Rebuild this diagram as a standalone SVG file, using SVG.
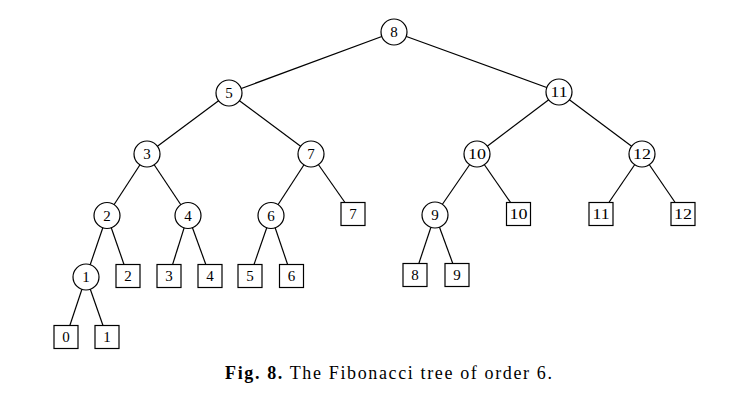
<svg xmlns="http://www.w3.org/2000/svg" width="752" height="403" viewBox="0 0 752 403">
<style>
.e{stroke:#000;stroke-width:1.2;fill:none}
.c{fill:#fff;stroke:#000;stroke-width:1.2}
.s{fill:#fff;stroke:#000;stroke-width:1.2}
.t{font-family:"Liberation Serif","Times New Roman",serif;font-size:15px;text-anchor:middle;fill:#000}
.cap{font-family:"Liberation Serif","Times New Roman",serif;font-size:18px;fill:#000}
</style>
<rect width="752" height="403" fill="#fff"/>
<g id="connectors">
<line class="e" x1="394" y1="32" x2="229" y2="93"/>
<line class="e" x1="394" y1="32" x2="559" y2="92"/>
<line class="e" x1="229" y1="93" x2="147" y2="154"/>
<line class="e" x1="229" y1="93" x2="311" y2="154"/>
<line class="e" x1="559" y1="92" x2="477" y2="154"/>
<line class="e" x1="559" y1="92" x2="642" y2="154"/>
<line class="e" x1="147" y1="154" x2="107" y2="215.5"/>
<line class="e" x1="147" y1="154" x2="188" y2="215.5"/>
<line class="e" x1="311" y1="154" x2="271" y2="215.5"/>
<line class="e" x1="311" y1="154" x2="353" y2="214"/>
<line class="e" x1="477" y1="154" x2="435" y2="215"/>
<line class="e" x1="477" y1="154" x2="518.5" y2="214"/>
<line class="e" x1="642" y1="154" x2="601" y2="214"/>
<line class="e" x1="642" y1="154" x2="683" y2="214"/>
<line class="e" x1="107" y1="215.5" x2="86" y2="277"/>
<line class="e" x1="107" y1="215.5" x2="128" y2="276"/>
<line class="e" x1="188" y1="215.5" x2="169" y2="276"/>
<line class="e" x1="188" y1="215.5" x2="210" y2="276"/>
<line class="e" x1="271" y1="215.5" x2="250" y2="276"/>
<line class="e" x1="271" y1="215.5" x2="291.5" y2="276"/>
<line class="e" x1="435" y1="215" x2="415" y2="275"/>
<line class="e" x1="435" y1="215" x2="457" y2="275"/>
<line class="e" x1="86" y1="277" x2="66" y2="337"/>
<line class="e" x1="86" y1="277" x2="107" y2="337"/>
</g>
<g id="n8"><circle class="c" cx="394" cy="32" r="13"/><text class="t" x="394" y="37">8</text></g>
<g id="n5"><circle class="c" cx="229" cy="93" r="13"/><text class="t" x="229" y="98">5</text></g>
<g id="n11"><circle class="c" cx="559" cy="92" r="13"/><text class="t" x="559" y="97" textLength="17" lengthAdjust="spacingAndGlyphs">11</text></g>
<g id="n3"><circle class="c" cx="147" cy="154" r="13"/><text class="t" x="147" y="159">3</text></g>
<g id="n7"><circle class="c" cx="311" cy="154" r="13"/><text class="t" x="311" y="159">7</text></g>
<g id="n10"><circle class="c" cx="477" cy="154" r="13"/><text class="t" x="477" y="159" textLength="18" lengthAdjust="spacingAndGlyphs">10</text></g>
<g id="n12"><circle class="c" cx="642" cy="154" r="13"/><text class="t" x="642" y="159" textLength="18" lengthAdjust="spacingAndGlyphs">12</text></g>
<g id="n2"><circle class="c" cx="107" cy="215.5" r="13"/><text class="t" x="107" y="220.5">2</text></g>
<g id="n4"><circle class="c" cx="188" cy="215.5" r="13"/><text class="t" x="188" y="220.5">4</text></g>
<g id="n6"><circle class="c" cx="271" cy="215.5" r="13"/><text class="t" x="271" y="220.5">6</text></g>
<g id="n9"><circle class="c" cx="435" cy="215" r="13"/><text class="t" x="435" y="220">9</text></g>
<g id="n1"><circle class="c" cx="86" cy="277" r="13"/><text class="t" x="86" y="282">1</text></g>
<g id="l7"><rect class="s" x="341" y="202.5" width="24" height="23"/><text class="t" x="353" y="219">7</text></g>
<g id="l10"><rect class="s" x="506.5" y="202.5" width="24" height="23"/><text class="t" x="518.5" y="219" textLength="18" lengthAdjust="spacingAndGlyphs">10</text></g>
<g id="l11"><rect class="s" x="589" y="202.5" width="24" height="23"/><text class="t" x="601" y="219" textLength="17" lengthAdjust="spacingAndGlyphs">11</text></g>
<g id="l12"><rect class="s" x="671" y="202.5" width="24" height="23"/><text class="t" x="683" y="219" textLength="18" lengthAdjust="spacingAndGlyphs">12</text></g>
<g id="l2"><rect class="s" x="116" y="264.5" width="24" height="23"/><text class="t" x="128" y="281">2</text></g>
<g id="l3"><rect class="s" x="157" y="264.5" width="24" height="23"/><text class="t" x="169" y="281">3</text></g>
<g id="l4"><rect class="s" x="198" y="264.5" width="24" height="23"/><text class="t" x="210" y="281">4</text></g>
<g id="l5"><rect class="s" x="238" y="264.5" width="24" height="23"/><text class="t" x="250" y="281">5</text></g>
<g id="l6"><rect class="s" x="279.5" y="264.5" width="24" height="23"/><text class="t" x="291.5" y="281">6</text></g>
<g id="l8"><rect class="s" x="403" y="263.5" width="24" height="23"/><text class="t" x="415" y="280">8</text></g>
<g id="l9"><rect class="s" x="445" y="263.5" width="24" height="23"/><text class="t" x="457" y="280">9</text></g>
<g id="l0"><rect class="s" x="54" y="325.5" width="24" height="23"/><text class="t" x="66" y="342">0</text></g>
<g id="l1"><rect class="s" x="95" y="325.5" width="24" height="23"/><text class="t" x="107" y="342">1</text></g>
<text class="cap" x="225" y="379" textLength="327" lengthAdjust="spacing"><tspan font-weight="bold">Fig. 8.</tspan> The Fibonacci tree of order 6.</text>
</svg>
